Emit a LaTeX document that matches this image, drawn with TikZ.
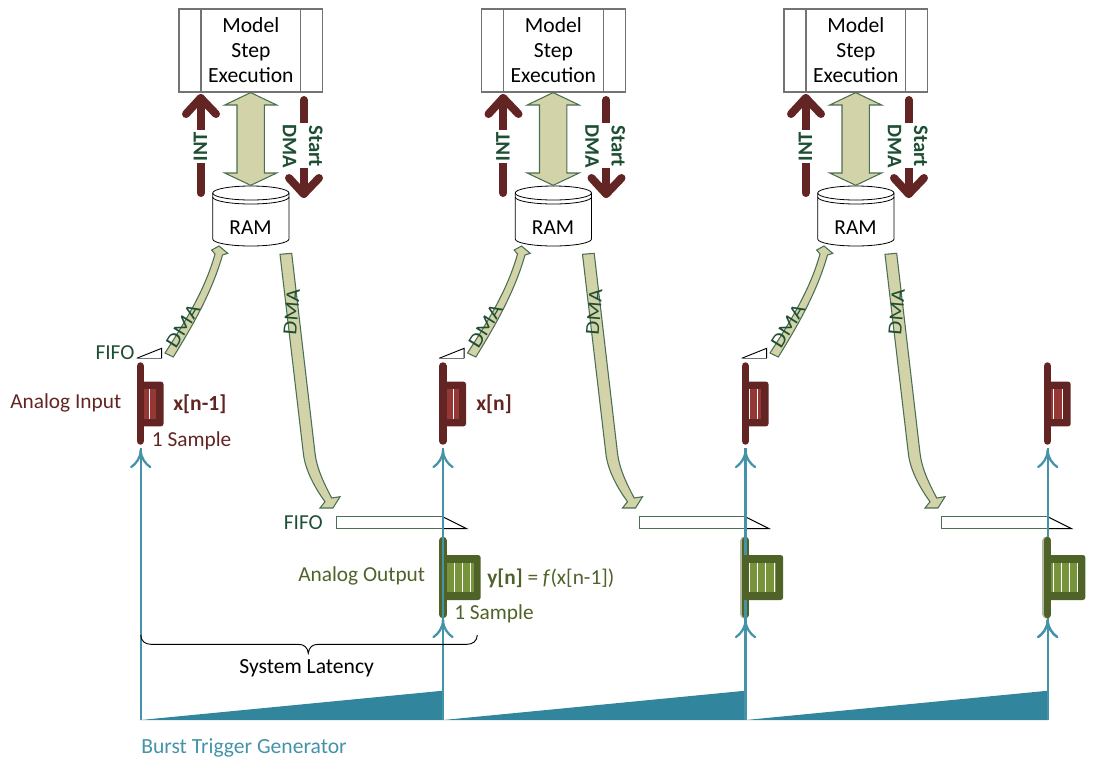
\documentclass[tikz,border=0pt]{standalone}
\usepackage{fontspec}
\usepackage{graphicx}
\setmainfont{Carlito}
\usetikzlibrary{calc}
\definecolor{darkred}{HTML}{632523}
\definecolor{midred}{HTML}{953735}
\definecolor{olive}{HTML}{4F6228}
\definecolor{lightolive}{HTML}{77933C}
\definecolor{teal}{HTML}{31859C}
\definecolor{tealline}{HTML}{4493A9}
\definecolor{dgreen}{HTML}{1E4E33}
\definecolor{khaki}{HTML}{D3D3A9}
\definecolor{khakiline}{HTML}{4A6F52}
\newcommand{\fs}[1]{\fontsize{#1}{#1}\selectfont}
\tikzset{
  x=0.75pt,y=-0.75pt,
  txt/.style={inner sep=0pt,font=\fs{16}},
  signal/.style={line width=6pt,color=darkred,line cap=round,line join=round},
  burst/.style={line width=1.7pt,color=tealline},
  barbs/.style={line width=1.7pt,color=tealline,line cap=round},
  bigarrow/.style={fill=khaki,draw=khakiline,line width=0.8pt,line join=miter},
  vlabel/.style={inner sep=0pt,text=dgreen,font=\fs{15.5}\bfseries},
  dmalabel/.style={inner sep=0pt,text=dgreen,font=\fs{15}},
  modbar/.style={line width=5.6pt,line cap=round},
  modouter/.style={rounded corners=2pt},
  whiteline/.style={white,line width=0.7pt},
  fifo/.style={draw=khakiline,fill=white,line width=0.8pt},
  fifotip/.style={draw=black,line width=0.7pt},
}
\begin{document}
\begin{tikzpicture}
\useasboundingbox (0,0) rectangle (1103,769);
% three repeating columns
\foreach \c/\dx in {1/0,2/302.5,3/605}{
\begin{scope}[shift={(\dx,0)}]
  \node[draw=black!55,line width=0.9pt,minimum width=107.8pt,minimum height=62.25pt,inner sep=0pt,
        align=center,font=\fontsize{16.2}{18.75}\selectfont] (m\c) at (250.85,50.5)
        {Model\\Step\\Execution};
  \draw[black!55,line width=0.9pt] ($(m\c.north west)+(22.7,0)$) -- ($(m\c.south west)+(22.7,0)$);
  \draw[black!55,line width=0.9pt] ($(m\c.north east)+(-22.7,0)$) -- ($(m\c.south east)+(-22.7,0)$);
  % RAM
  \draw[fill=white,line width=0.6pt] (212.7,193) -- (212.7,239) arc[start angle=180,end angle=0,x radius=38.15,y radius=7]
     -- (289,193) arc[start angle=0,end angle=-180,x radius=38.15,y radius=7] -- cycle;
  \draw[line width=0.6pt] (212.7,197) arc[start angle=180,end angle=0,x radius=38.15,y radius=7];
  \draw[line width=0.6pt] (212.7,193) arc[start angle=180,end angle=0,x radius=38.15,y radius=7];
  \node[txt] (ram\c) at (250.5,227.7) {RAM};
  % double arrow
  \coordinate (dt\c) at ($(m\c.south)+(-0.2,0)$);
  \coordinate (db\c) at (250.7,185.3);
  \draw[bigarrow] (dt\c) -- (276.7,105) -- (264.4,105) -- (264.4,173) -- (276.7,173) -- (db\c)
     -- (224.7,173) -- (237,173) -- (237,105) -- (224.7,105) -- cycle;
  % INT
  \coordinate (it\c) at (200.7,98);
  \coordinate (ib\c) at (200.7,193);
  \draw[signal] (ib\c) -- (it\c);
  \draw[signal] (186,114) -- (it\c) -- (216,114);
  \node[vlabel,rotate=90,fill=white,inner xsep=1pt,inner ysep=0pt] (il\c) at (200.3,146.5) {INT};
  % Start DMA
  \coordinate (st\c) at (303.7,100);
  \coordinate (sb\c) at (303.7,194);
  \draw[signal] (st\c) -- (sb\c);
  \draw[signal] (289,178) -- (sb\c) -- (319,178);
  \fill[white] (287,123) rectangle (322,168);
  \node[vlabel,rotate=-90] (sa\c) at (315.7,146) {Start};
  \node[vlabel,rotate=-90] (sd\c) at (289.5,146) {DMA};
  % FIFO in triangle
  \coordinate (fa\c) at (136.7,358.3);
  \coordinate (fb\c) at (161.7,348.3);
  \coordinate (fc\c) at (161.7,358.3);
  \draw[fifotip] (fa\c) -- (fb\c) -- (fc\c);
  \draw[black!55,line width=0.8pt] (fc\c) -- (fa\c);
  % DMA up
  \draw[bigarrow] (165,353) .. controls (185,322) and (205,290) .. (215,254)
     -- (211.7,250) -- (219,246) -- (227.7,253.3) -- (222.5,255)
     .. controls (212,292) and (193,325) .. (173.3,357) -- cycle;
  \node[dmalabel,rotate=58] (du\c) at (183,326) {\scalebox{1.15}[1]{DMA}};
  % DMA down
  \draw[bigarrow] (280,254.3) -- (291.7,253.3) -- (315,453)
     .. controls (317,470) and (325,485) .. (331.7,498) -- (340,496.7) -- (333,508) -- (320,508) -- (325,501.7)
     .. controls (315,488) and (305,470) .. (303.3,453) -- cycle;
  \node[dmalabel,rotate=85] (dd\c) at (291.7,311.7) {\scalebox{1.12}[1]{DMA}};
  % FIFO out
  \coordinate (oa\c) at (442.7,516.7);
  \coordinate (ob\c) at (442.7,528.7);
  \coordinate (oc\c) at (466.7,528.7);
  \draw[fifo] (oa\c) -- (336.7,516.7) -- (336.7,528.7) -- (ob\c);
  \draw[fifotip] (oa\c) -- (oc\c) -- (ob\c);
  % ramp
  \coordinate (r0\c) at (140.7,720);
  \coordinate (r1\c) at (443,690.7);
  \coordinate (r2\c) at (443,720);
  \fill[teal] (r0\c) -- (r1\c) -- (r2\c) -- cycle;
\end{scope}
}
% analog modules
\newcommand{\inmod}[2]{%
  \begin{scope}[shift={(#1,0)}]
  \fill[modouter,darkred] (0,381.6) rectangle (23.2,426.4);
  \fill[midred] (3.7,389) rectangle (15.7,419);
  \draw[modbar,darkred] (0,366) -- (0,441);
  \foreach \w in {#2}{\draw[whiteline] (\w,389) -- (\w,419);}
  \end{scope}}
\newcommand{\outmod}[2]{%
  \begin{scope}[shift={(#1,0)}]
  \fill[modouter,olive] (0,555) rectangle (37.9,600);
  \fill[lightolive] (3.7,562.7) rectangle (30.7,592.3);
  \draw[modbar,olive] (0,540.5) -- (0,614.5);
  \foreach \w in {#2}{\draw[whiteline] (\w,562.7) -- (\w,592.3);}
  \end{scope}}
\newcommand{\barbhead}[1]{%
  \draw[barbs] (#1) ++(0,2) .. controls +(0,8) and +(4.5,-3) .. ++(-9.5,17);
  \draw[barbs] (#1) ++(0,2) .. controls +(0,8) and +(-4.5,-3) .. ++(9.5,17);}
\inmod{140.3}{9}
\inmod{442.8}{10.6}
\inmod{745.3}{3.7,12}
\inmod{1047.5}{6,15}
% trigger lines
\coordinate (b1) at (140.7,720);
\coordinate (b2) at (443,720);
\coordinate (b3) at (745.5,720);
\coordinate (b4) at (1047.7,720);
\coordinate (t1) at (140.7,448);
\coordinate (t2) at (443,448);
\coordinate (t3) at (745.5,448);
\coordinate (t4) at (1047.7,448);
\coordinate (u2) at (443,618);
\coordinate (u3) at (745.5,618);
\coordinate (u4) at (1047.7,618);
% output modules: the trigger line runs over, or under, each as in the figure
\outmod{442.8}{11.3,20,27.3}
\draw[line width=6.8pt,line cap=round,olive!45] (744.8,541) -- (744.8,614);
\outmod{745.3}{3.7,12,20.3,28.7}
\foreach \i in {1,2,3,4}{\draw[burst] (b\i) -- (t\i); \barbhead{t\i}}
\foreach \i in {2,3,4}{\barbhead{u\i}}
\fill[olive] (742.4,555) rectangle (748.2,600);
\draw[line width=6.8pt,line cap=round,olive!45] (1046.9,541) -- (1046.9,614);
\outmod{1047.5}{6,14.4,22,30.4}
\draw[burst] (b4) -- (u4);
\barbhead{u4}
% FIFO labels
\node[txt,text=dgreen] (fifoa) at (115,352.5) {FIFO};
\node[txt,text=dgreen] (fifob) at (303.3,523) {FIFO};
% text labels
\node[txt,text=darkred,anchor=west] (ai) at (10,402.7) {Analog Input};
\node[txt,text=darkred,anchor=west,font=\fs{16.2}\bfseries] (xa) at (173,404.5) {x[n-1]};
\node[txt,text=darkred,anchor=west] (sma) at (151.7,441) {1 Sample};
\node[txt,text=darkred,anchor=west,font=\fs{16.2}\bfseries] (xb) at (476,404.5) {x[n]};
\node[txt,text=olive,anchor=west] (ao) at (298,576) {Analog Output};
\node[txt,text=olive,anchor=west] (yy) at (487,578) {\textbf{y[n]} = \textit{f}(x[n-1])};
\node[txt,text=olive,anchor=west] (smb) at (454,614) {1 Sample};
\node[txt,text=black,font=\fs{16.2}] (sl) at (306.7,668) {System Latency};
\node[txt,text=tealline,anchor=west,font=\fs{16.2}] (bt) at (141,748) {Burst Trigger Generator};
% brace
\coordinate (bl) at (140.7,635);
\coordinate (br) at (477.3,635);
\coordinate (bm) at (308.3,653.3);
\draw[black,line width=0.7pt] (bl) .. controls (141,641) and (145,644.3) .. (151,644.3) -- (298,644.3)
   .. controls (304,644.3) and (307.5,647) .. (bm) .. controls (309,647) and (312.5,644.3) .. (318.5,644.3)
   -- (467,644.3) .. controls (473,644.3) and (477,641) .. (br);
\end{tikzpicture}
\end{document}
